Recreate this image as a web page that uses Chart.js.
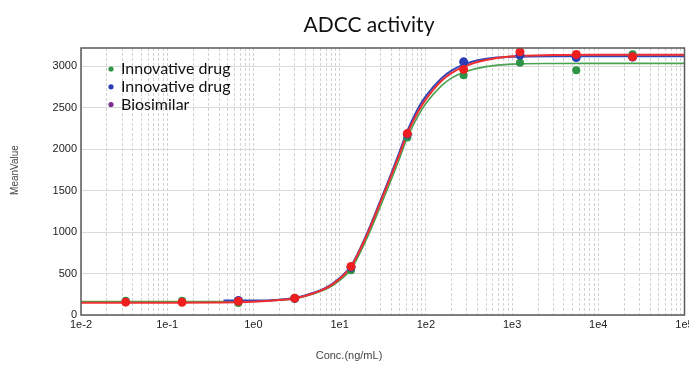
<!DOCTYPE html>
<html>
<head>
<meta charset="utf-8">
<title>ADCC activity</title>
<script src="https://cdn.jsdelivr.net/npm/chart.js@4.4.1/dist/chart.umd.min.js"></script>
<style>
  html, body { margin: 0; padding: 0; background: #fff; }
  #wrap { width: 689px; height: 369px; }
</style>
</head>
<body>
<div id="wrap"><canvas id="chart" width="689" height="369"></canvas></div>
<script>
// measured points (concentration in ng/mL, mean value)
const conc = [0.0330, 0.1487, 0.669, 3.011, 13.55, 60.97, 274.3, 1235, 5556, 25000];
const innovGreen = [172, 172, 145, 195, 540, 2140, 2892, 3041, 2953, 3146];
const blueConc = [0.669, 3.011, 13.55, 60.97, 274.3, 1235, 5556, 25000];
const innovBlue = [175, 200, 575, 2180, 3053, 3134, 3106, 3110];
const biosimilar = [155, 153, 165, 203, 585, 2188, 2961, 3174, 3142, 3114];

// fitted curves
const fitConc = [0.01, 0.1, 0.45, 1, 2, 3, 5, 8, 13.5, 20, 30, 40, 50, 61, 80, 100, 150, 200, 300, 500, 1000, 3000, 10000, 100000];
const fitGreen = [161, 161, 162, 166, 178, 195, 255, 345, 550, 890, 1320, 1640, 1900, 2140, 2390, 2550, 2760, 2860, 2940, 2995, 3025, 3033, 3035, 3035];
const fitBlueConc = [0.45, 1, 2, 3, 5, 8, 13.5, 20, 30, 40, 50, 61, 80, 100, 150, 200, 300, 500, 1000, 3000, 10000, 100000];
const fitBlue = [174, 174, 185, 205, 268, 368, 590, 945, 1390, 1715, 1980, 2220, 2480, 2640, 2850, 2950, 3035, 3090, 3115, 3122, 3122, 3122];
const fitBio = [147, 147, 150, 160, 180, 200, 262, 360, 580, 930, 1370, 1690, 1950, 2190, 2440, 2600, 2820, 2920, 3010, 3075, 3120, 3135, 3138, 3138];

const xDecades = [0.01, 0.1, 1, 10, 100, 1000, 10000, 100000];
const xTickLabels = ['1e-2', '1e-1', '1e0', '1e1', '1e2', '1e3', '1e4', '1e5'];
const yTicks = [0, 500, 1000, 1500, 2000, 2500, 3000];

const legendNames = ['Innovative drug', 'Innovative drug', 'Biosimilar'];
const legendColors = ['#2e9445', '#2a3db5', '#7b2d8e'];

const pts = (xs, ys) => xs.map((x, i) => ({ x, y: ys[i] }));

Chart.defaults.font.family = "'Liberation Sans', Arial, sans-serif";
Chart.defaults.color = '#333';

// title, legend, frame and axis titles drawn on top of the chart
const overlay = {
  id: 'overlay',
  afterDraw(chart) {
    const { ctx, chartArea: a } = chart;
    ctx.save();
    ctx.strokeStyle = '#5a5a5a';
    ctx.lineWidth = 1.5;
    ctx.strokeRect(a.left, a.top, a.right - a.left, a.bottom - a.top);

    ctx.fillStyle = '#111';
    ctx.font = "21px Lato, 'Open Sans', sans-serif";
    ctx.textAlign = 'center';
    ctx.textBaseline = 'alphabetic';
    ctx.fillText('ADCC activity', 369, 32);

    ctx.font = "16px Lato, 'Open Sans', sans-serif";
    ctx.textAlign = 'left';
    legendNames.forEach((name, i) => {
      const y = 74 + i * 17.8;
      ctx.fillStyle = legendColors[i];
      ctx.beginPath();
      ctx.arc(111, y - 5, 2.6, 0, Math.PI * 2);
      ctx.fill();
      ctx.fillStyle = '#111';
      ctx.fillText(name, 121, y);
    });

    ctx.fillStyle = '#444';
    ctx.font = "11px 'Liberation Sans', Arial, sans-serif";
    ctx.textBaseline = 'middle';
    ctx.textAlign = 'center';
    ctx.fillText('Conc.(ng/mL)', 349, 356);
    ctx.translate(15, 170);
    ctx.rotate(-Math.PI / 2);
    ctx.font = "10px 'Liberation Sans', Arial, sans-serif";
    ctx.fillText('MeanValue', 0, 0);
    ctx.restore();
  }
};

new Chart(document.getElementById('chart'), {
  type: 'scatter',
  data: {
    datasets: [
      { label: 'Biosimilar', data: pts(conc, biosimilar), order: 0,
        pointRadius: 4.5, pointBackgroundColor: '#f01f1f', pointBorderWidth: 0 },
      { label: 'Innovative drug (2)', data: pts(blueConc, innovBlue), order: 1,
        pointRadius: 4.5, pointBackgroundColor: '#2a3db5', pointBorderWidth: 0 },
      { label: 'Innovative drug (1)', data: pts(conc, innovGreen), order: 2,
        pointRadius: 4, pointBackgroundColor: '#2e9445', pointBorderWidth: 0 },
      { label: 'Biosimilar fit', data: pts(fitConc, fitBio), order: 3, showLine: true,
        pointRadius: 0, borderColor: '#f03030', borderWidth: 2, cubicInterpolationMode: 'monotone' },
      { label: 'Innovative drug (2) fit', data: pts(fitBlueConc, fitBlue), order: 4, showLine: true,
        pointRadius: 0, borderColor: '#3346b8', borderWidth: 2, cubicInterpolationMode: 'monotone' },
      { label: 'Innovative drug (1) fit', data: pts(fitConc, fitGreen), order: 5, showLine: true,
        pointRadius: 0, borderColor: '#4aa352', borderWidth: 1.6, cubicInterpolationMode: 'monotone' }
    ]
  },
  options: {
    responsive: false,
    animation: false,
    layout: { padding: { top: 48, right: 3, left: 0, bottom: 0 } },
    plugins: { legend: { display: false }, tooltip: { enabled: false } },
    scales: {
      x: {
        type: 'logarithmic',
        min: 0.01,
        max: 100000,
        afterBuildTicks: (s) => {
          const t = [];
          xDecades.forEach((d, i) => {
            t.push({ value: d });
            if (i < xDecades.length - 1) {
              for (let m = 2; m <= 9; m++) t.push({ value: m * d });
            }
          });
          s.ticks = t;
        },
        afterFit: (s) => { s.height = 54; s.paddingLeft = 0; s.paddingRight = 0; },
        ticks: {
          autoSkip: false,
          maxRotation: 0,
          padding: 3,
          color: '#222',
          font: { size: 11 },
          callback: (v) => {
            const i = xDecades.indexOf(v);
            return i >= 0 ? xTickLabels[i] : '';
          }
        },
        grid: { color: '#d2d2d2', lineWidth: 1, drawTicks: false },
        border: { display: false, dash: [3, 2] }
      },
      y: {
        min: 0,
        max: 3220,
        afterBuildTicks: (s) => { s.ticks = yTicks.map(v => ({ value: v })); },
        afterFit: (s) => { s.width = 81; s.paddingTop = 0; s.paddingBottom = 0; },
        ticks: { padding: 4, color: '#222', font: { size: 11 }, callback: (v) => String(v) },
        grid: { color: '#dadada', lineWidth: 1, drawTicks: false },
        border: { display: false }
      }
    }
  },
  plugins: [overlay]
});
</script>
</body>
</html>
